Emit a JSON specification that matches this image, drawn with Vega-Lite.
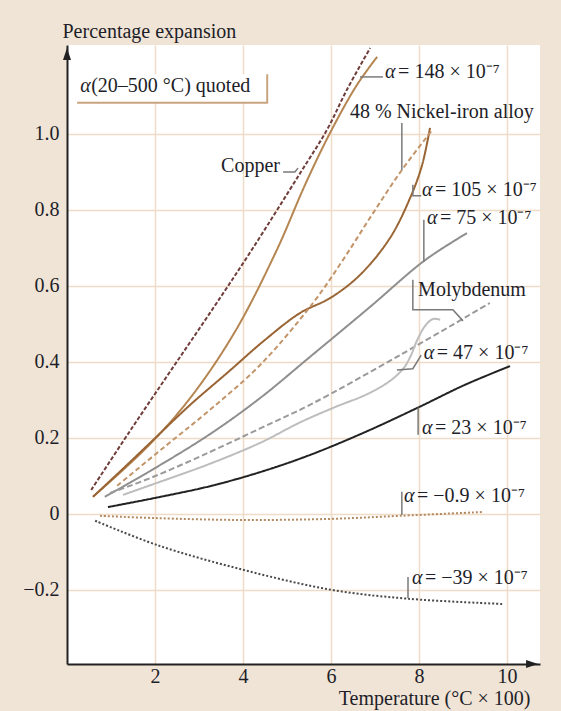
{
  "$schema": "https://vega.github.io/schema/vega-lite/v6.json",
  "width": 473,
  "height": 619,
  "autosize": "none",
  "padding": {"left": 67, "top": 45, "right": 21, "bottom": 47},
  "background": "#f0e4d7",
  "view": {"fill": "white", "stroke": null},
  "config": {
    "font": "Liberation Serif",
    "text": {"font": "Liberation Serif", "fontSize": 20, "color": "#1e1e28"}
  },
  "datasets": {
    "curves": [
      {"s": "copper", "x": 0.55, "y": 0.063}, {"s": "copper", "x": 1.43, "y": 0.218}, {"s": "copper", "x": 2.34, "y": 0.374}, {"s": "copper", "x": 3.25, "y": 0.529}, {"s": "copper", "x": 4.2, "y": 0.695}, {"s": "copper", "x": 5.3, "y": 0.897}, {"s": "copper", "x": 5.91, "y": 1.011}, {"s": "copper", "x": 6.36, "y": 1.116}, {"s": "copper", "x": 6.89, "y": 1.226},
      {"s": "a148", "x": 0.59, "y": 0.045}, {"s": "a148", "x": 1.82, "y": 0.176}, {"s": "a148", "x": 2.8, "y": 0.305}, {"s": "a148", "x": 3.82, "y": 0.48}, {"s": "a148", "x": 4.77, "y": 0.695}, {"s": "a148", "x": 5.41, "y": 0.866}, {"s": "a148", "x": 5.98, "y": 1.003}, {"s": "a148", "x": 6.59, "y": 1.129}, {"s": "a148", "x": 7.05, "y": 1.203},
      {"s": "a105", "x": 0.59, "y": 0.045}, {"s": "a105", "x": 1.2, "y": 0.111}, {"s": "a105", "x": 1.89, "y": 0.187}, {"s": "a105", "x": 2.8, "y": 0.287}, {"s": "a105", "x": 3.64, "y": 0.371}, {"s": "a105", "x": 4.5, "y": 0.458}, {"s": "a105", "x": 5.3, "y": 0.529}, {"s": "a105", "x": 5.98, "y": 0.568}, {"s": "a105", "x": 6.66, "y": 0.629}, {"s": "a105", "x": 7.34, "y": 0.726}, {"s": "a105", "x": 7.8, "y": 0.832}, {"s": "a105", "x": 8.07, "y": 0.918}, {"s": "a105", "x": 8.25, "y": 1.016},
      {"s": "nickel", "x": 1.14, "y": 0.074}, {"s": "nickel", "x": 2.2, "y": 0.175}, {"s": "nickel", "x": 3.25, "y": 0.274}, {"s": "nickel", "x": 4.39, "y": 0.392}, {"s": "nickel", "x": 5.59, "y": 0.555}, {"s": "nickel", "x": 6.27, "y": 0.668}, {"s": "nickel", "x": 6.93, "y": 0.787}, {"s": "nickel", "x": 7.61, "y": 0.905}, {"s": "nickel", "x": 8.3, "y": 1.01},
      {"s": "a75", "x": 0.86, "y": 0.045}, {"s": "a75", "x": 1.89, "y": 0.113}, {"s": "a75", "x": 3.25, "y": 0.21}, {"s": "a75", "x": 4.39, "y": 0.305}, {"s": "a75", "x": 5.52, "y": 0.413}, {"s": "a75", "x": 6.89, "y": 0.545}, {"s": "a75", "x": 8.14, "y": 0.668}, {"s": "a75", "x": 9.09, "y": 0.739},
      {"s": "moly", "x": 0.98, "y": 0.055}, {"s": "moly", "x": 1.95, "y": 0.097}, {"s": "moly", "x": 3.25, "y": 0.163}, {"s": "moly", "x": 4.39, "y": 0.225}, {"s": "moly", "x": 5.52, "y": 0.287}, {"s": "moly", "x": 7.57, "y": 0.418}, {"s": "moly", "x": 9.61, "y": 0.555},
      {"s": "a47", "x": 1.27, "y": 0.05}, {"s": "a47", "x": 2.2, "y": 0.088}, {"s": "a47", "x": 3.25, "y": 0.132}, {"s": "a47", "x": 4.39, "y": 0.187}, {"s": "a47", "x": 5.3, "y": 0.241}, {"s": "a47", "x": 6.09, "y": 0.281}, {"s": "a47", "x": 6.82, "y": 0.315}, {"s": "a47", "x": 7.34, "y": 0.35}, {"s": "a47", "x": 7.64, "y": 0.382}, {"s": "a47", "x": 7.8, "y": 0.413}, {"s": "a47", "x": 7.95, "y": 0.455}, {"s": "a47", "x": 8.14, "y": 0.495}, {"s": "a47", "x": 8.32, "y": 0.513}, {"s": "a47", "x": 8.48, "y": 0.511},
      {"s": "a23", "x": 0.93, "y": 0.018}, {"s": "a23", "x": 2.0, "y": 0.042}, {"s": "a23", "x": 3.25, "y": 0.073}, {"s": "a23", "x": 4.39, "y": 0.11}, {"s": "a23", "x": 5.52, "y": 0.155}, {"s": "a23", "x": 6.77, "y": 0.215}, {"s": "a23", "x": 7.98, "y": 0.28}, {"s": "a23", "x": 9.05, "y": 0.34}, {"s": "a23", "x": 10.07, "y": 0.389},
      {"s": "am09", "x": 0.75, "y": -0.005}, {"s": "am09", "x": 2.0, "y": -0.011}, {"s": "am09", "x": 4.0, "y": -0.016}, {"s": "am09", "x": 6.02, "y": -0.013}, {"s": "am09", "x": 7.57, "y": -0.005}, {"s": "am09", "x": 9.45, "y": 0.005},
      {"s": "am39", "x": 0.64, "y": -0.018}, {"s": "am39", "x": 2.05, "y": -0.082}, {"s": "am39", "x": 4.0, "y": -0.147}, {"s": "am39", "x": 6.02, "y": -0.2}, {"s": "am39", "x": 7.73, "y": -0.223}, {"s": "am39", "x": 9.89, "y": -0.237}
    ],
    "leaders": [
      {"l": "copper", "o": 1, "x": 4.91, "y": 0.9}, {"l": "copper", "o": 2, "x": 5.18, "y": 0.9}, {"l": "copper", "o": 3, "x": 5.25, "y": 0.91},
      {"l": "a148", "o": 1, "x": 6.66, "y": 1.15}, {"l": "a148", "o": 2, "x": 7.18, "y": 1.15},
      {"l": "nickel", "o": 1, "x": 7.61, "y": 1.029}, {"l": "nickel", "o": 2, "x": 7.61, "y": 0.905},
      {"l": "a105", "o": 1, "x": 7.86, "y": 0.866}, {"l": "a105", "o": 2, "x": 7.86, "y": 0.837}, {"l": "a105", "o": 3, "x": 8.05, "y": 0.837},
      {"l": "a75", "o": 1, "x": 8.11, "y": 0.774}, {"l": "a75", "o": 2, "x": 8.11, "y": 0.663},
      {"l": "moly", "o": 1, "x": 7.86, "y": 0.616}, {"l": "moly", "o": 2, "x": 7.86, "y": 0.537}, {"l": "moly", "o": 3, "x": 8.77, "y": 0.537}, {"l": "moly", "o": 4, "x": 9.0, "y": 0.508},
      {"l": "a47", "o": 1, "x": 7.5, "y": 0.379}, {"l": "a47", "o": 2, "x": 7.86, "y": 0.382}, {"l": "a47", "o": 3, "x": 8.05, "y": 0.418},
      {"l": "a23", "o": 1, "x": 7.98, "y": 0.28}, {"l": "a23", "o": 2, "x": 7.98, "y": 0.208},
      {"l": "am09", "o": 1, "x": 7.61, "y": 0.058}, {"l": "am09", "o": 2, "x": 7.61, "y": -0.003},
      {"l": "am39", "o": 1, "x": 7.75, "y": -0.166}, {"l": "am39", "o": 2, "x": 7.75, "y": -0.222}
    ],
    "labels": [
      {"id": "box", "lx": 0.3, "ly": 1.126, "alpha": true, "rest": "(20–500 °C) quoted", "side": "left"},
      {"id": "a148", "lx": 7.23, "ly": 1.163, "alpha": true, "rest": "= 148 × 10⁻⁷", "side": "left"},
      {"id": "nickel", "lx": 6.43, "ly": 1.058, "alpha": false, "rest": "48 % Nickel-iron alloy", "side": "left"},
      {"id": "a105", "lx": 8.07, "ly": 0.853, "alpha": true, "rest": "= 105 × 10⁻⁷", "side": "left"},
      {"id": "a75", "lx": 8.18, "ly": 0.779, "alpha": true, "rest": "= 75 × 10⁻⁷", "side": "left"},
      {"id": "moly", "lx": 7.98, "ly": 0.589, "alpha": false, "rest": "Molybdenum", "side": "left"},
      {"id": "a47", "lx": 8.11, "ly": 0.424, "alpha": true, "rest": "= 47 × 10⁻⁷", "side": "left"},
      {"id": "a23", "lx": 8.07, "ly": 0.226, "alpha": true, "rest": "= 23 × 10⁻⁷", "side": "left"},
      {"id": "am09", "lx": 7.66, "ly": 0.047, "alpha": true, "rest": "= −0.9 × 10⁻⁷", "side": "left"},
      {"id": "am39", "lx": 7.84, "ly": -0.168, "alpha": true, "rest": "= −39 × 10⁻⁷", "side": "left"},
      {"id": "copper", "lx": 4.84, "ly": 0.916, "alpha": false, "rest": "Copper", "side": "right"}
    ],
    "box": [{"x1": 0.14, "x2": 4.55, "y1": 1.082, "y2": 1.157}],
    "boxedges": [
      {"x1": 0.23, "x2": 4.57, "y1": 1.082, "y2": 1.082},
      {"x1": 4.55, "x2": 4.55, "y1": 1.082, "y2": 1.157}
    ],
    "arrows": [
      {"ax": 0, "ay": 1.21, "dir": "up"},
      {"ax": 10.57, "ay": -0.395, "dir": "right"}
    ]
  },
  "layer": [
    {
      "data": {"name": "box"},
      "mark": {"type": "rect", "fill": "white"},
      "encoding": {
        "x": {"field": "x1", "type": "quantitative", "scale": {"domain": [0, 10.75], "nice": false, "zero": false},
          "axis": {"values": [2, 4, 6, 8, 10], "grid": true, "gridColor": "#eedcc7", "gridWidth": 1.5, "ticks": false,
            "domainColor": "#222", "domainWidth": 2, "labelFont": "Liberation Serif", "labelFontSize": 20, "labelColor": "#1e1e28",
            "labelPadding": 2, "title": "Temperature (°C × 100)", "titleFont": "Liberation Serif", "titleFontSize": 20,
            "titleFontWeight": "normal", "titleColor": "#1e1e28", "titleX": 463, "titleY": 40, "titleAlign": "right", "titleBaseline": "alphabetic"}},
        "x2": {"field": "x2"},
        "y": {"field": "y1", "type": "quantitative", "scale": {"domain": [-0.395, 1.234], "nice": false, "zero": false},
          "axis": {"values": [-0.2, 0, 0.2, 0.4, 0.6, 0.8, 1.0], "labelExpr": "datum.value == 0 ? '0' : format(datum.value, '.1f')",
            "grid": true, "gridColor": "#eedcc7", "gridWidth": 1.5, "ticks": false,
            "domainColor": "#222", "domainWidth": 2, "labelFont": "Liberation Serif", "labelFontSize": 20, "labelColor": "#1e1e28",
            "labelPadding": 8, "title": "Percentage expansion", "titleFont": "Liberation Serif", "titleFontSize": 20,
            "titleFontWeight": "normal", "titleColor": "#1e1e28", "titleAngle": 0, "titleX": -5, "titleY": -14, "titleAlign": "left", "titleBaseline": "middle"}},
        "y2": {"field": "y2"}
      }
    },
    {
      "data": {"name": "boxedges"},
      "mark": {"type": "rule", "color": "#c9a57f", "strokeWidth": 2},
      "encoding": {
        "x": {"field": "x1", "type": "quantitative"},
        "x2": {"field": "x2"},
        "y": {"field": "y1", "type": "quantitative"},
        "y2": {"field": "y2"}
      }
    },
    {
      "data": {"name": "curves"},
      "mark": {"type": "line", "strokeWidth": 2, "interpolate": "catmull-rom"},
      "encoding": {
        "x": {"field": "x", "type": "quantitative"},
        "y": {"field": "y", "type": "quantitative"},
        "color": {"field": "s", "type": "nominal", "legend": null,
          "scale": {"domain": ["copper", "a148", "a105", "nickel", "a75", "moly", "a47", "a23", "am09", "am39"],
            "range": ["#6f3d3a", "#b58552", "#9a6534", "#c2946a", "#8f8f8f", "#9a9a9a", "#bdbdbd", "#222222", "#b48a60", "#4a4a4a"]}},
        "strokeDash": {"field": "s", "type": "nominal", "legend": null,
          "scale": {"domain": ["copper", "a148", "a105", "nickel", "a75", "moly", "a47", "a23", "am09", "am39"],
            "range": [[4, 2], [1, 0], [1, 0], [5, 3], [1, 0], [6, 3], [1, 0], [1, 0], [2, 2], [2, 2]]}}
      }
    },
    {
      "data": {"name": "leaders"},
      "mark": {"type": "line", "color": "#7a7a7a", "strokeWidth": 1.5},
      "encoding": {
        "x": {"field": "x", "type": "quantitative"},
        "y": {"field": "y", "type": "quantitative"},
        "detail": {"field": "l"},
        "order": {"field": "o"}
      }
    },
    {
      "data": {"name": "labels"},
      "transform": [{"filter": "datum.alpha"}],
      "mark": {"type": "text", "align": "left", "baseline": "middle", "fontStyle": "italic"},
      "encoding": {
        "x": {"field": "lx", "type": "quantitative"},
        "y": {"field": "ly", "type": "quantitative"},
        "text": {"value": "α"}
      }
    },
    {
      "data": {"name": "labels"},
      "transform": [{"filter": "datum.alpha && datum.id != 'box'"}],
      "mark": {"type": "text", "align": "left", "baseline": "middle", "dx": 13},
      "encoding": {
        "x": {"field": "lx", "type": "quantitative"},
        "y": {"field": "ly", "type": "quantitative"},
        "text": {"field": "rest"}
      }
    },
    {
      "data": {"name": "labels"},
      "transform": [{"filter": "datum.id == 'box'"}],
      "mark": {"type": "text", "align": "left", "baseline": "middle", "dx": 11},
      "encoding": {
        "x": {"field": "lx", "type": "quantitative"},
        "y": {"field": "ly", "type": "quantitative"},
        "text": {"field": "rest"}
      }
    },
    {
      "data": {"name": "labels"},
      "transform": [{"filter": "!datum.alpha && datum.side == 'left'"}],
      "mark": {"type": "text", "align": "left", "baseline": "middle"},
      "encoding": {
        "x": {"field": "lx", "type": "quantitative"},
        "y": {"field": "ly", "type": "quantitative"},
        "text": {"field": "rest"}
      }
    },
    {
      "data": {"name": "labels"},
      "transform": [{"filter": "datum.side == 'right'"}],
      "mark": {"type": "text", "align": "right", "baseline": "middle"},
      "encoding": {
        "x": {"field": "lx", "type": "quantitative"},
        "y": {"field": "ly", "type": "quantitative"},
        "text": {"field": "rest"}
      }
    },
    {
      "data": {"name": "arrows"},
      "mark": {"type": "point", "filled": true, "size": 144, "color": "#222", "opacity": 1},
      "encoding": {
        "x": {"field": "ax", "type": "quantitative"},
        "y": {"field": "ay", "type": "quantitative"},
        "shape": {"field": "dir", "type": "nominal", "legend": null,
          "scale": {"domain": ["up", "right"], "range": ["M0,-1L0.67,1L-0.67,1Z", "M1,0L-1,0.67L-1,-0.67Z"]}}
      }
    }
  ]
}
